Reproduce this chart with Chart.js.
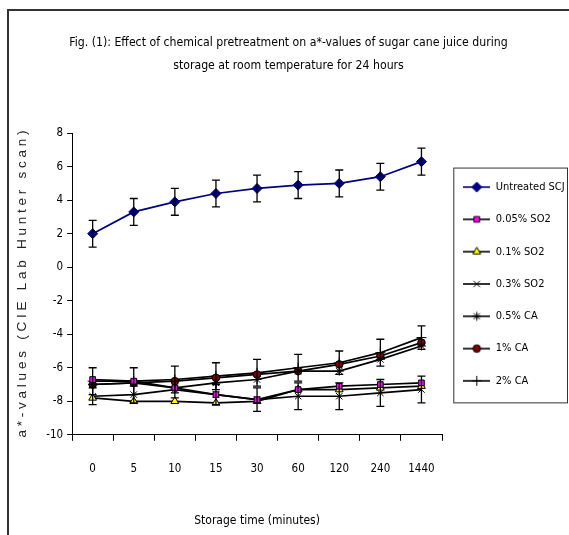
<!DOCTYPE html>
<html>
<head>
<meta charset="utf-8">
<script src="https://cdn.jsdelivr.net/npm/chart.js@4.4.1/dist/chart.umd.min.js"></script>
<style>
  html, body { margin: 0; padding: 0; background: #fff; }
  #c { display: block; }
</style>
</head>
<body>
<canvas id="c" width="569" height="535"></canvas>
<script>
const NARROW = '"Liberation Sans Narrow", "Arial Narrow", "DejaVu Sans Condensed", sans-serif';

/* ===== DATA ===== */
const times = ["0", "5", "10", "15", "30", "60", "120", "240", "1440"];
const yTicks = { min: -10, max: 8, step: 2 };

const untreated    = [2.0, 3.3, 3.9, 4.4, 4.7, 4.9, 5.0, 5.4, 6.3];
const untreatedErr = [0.8, 0.8, 0.8, 0.8, 0.8, 0.8, 0.8, 0.8, 0.8];
const so2_005 = [-6.7, -6.8, -7.2, -7.6, -7.9, -7.3, -7.1, -7.0, -6.9];
const so2_01  = [-7.8, -8.0, -8.0, -8.1, -8.0, -7.3, -7.3, -7.2, -7.1];
const so2_03  = [-7.7, -7.6, -7.3, -7.6, -7.9, -7.7, -7.7, -7.5, -7.3];
const so2_03Err = [0.5, 0.5, 0.5, 0.6, 0.7, 0.8, 0.8, 0.8, 0.8];
const ca_05 = [-7.0, -6.9, -7.2, -6.9, -6.7, -6.2, -6.2, -5.5, -4.7];
const ca_1  = [-7.0, -6.9, -6.8, -6.6, -6.4, -6.2, -5.8, -5.3, -4.5];
const ca_2  = [-6.8, -6.8, -6.7, -6.5, -6.3, -6.0, -5.7, -5.1, -4.2];
const ca_2Err = [0.8, 0.8, 0.8, 0.8, 0.8, 0.8, 0.7, 0.8, 0.7];

const titleLines = [
  "Fig. (1): Effect of chemical pretreatment on a*-values of sugar cane juice during",
  "storage at room temperature for 24 hours"
];
const xTitle = "Storage time (minutes)";
const yTitle = "a*-values (CIE Lab Hunter scan)";

/* ===== SERIES STYLE ===== */
const series = [
  { label: "Untreated SCJ", data: untreated, errors: untreatedErr, line: "#000080", fill: "#000080", edge: "#000080", style: "rectRot", radius: 5 },
  { label: "0.05% SO2", data: so2_005, line: "#000", fill: "#ff00ff", edge: "#000", style: "rect", radius: 4 },
  { label: "0.1% SO2", data: so2_01, line: "#000", fill: "#ffff00", edge: "#000", style: "triangle", radius: 4.5 },
  { label: "0.3% SO2", data: so2_03, errors: so2_03Err, line: "#000", fill: "#000", edge: "#000", style: "crossRot", radius: 4.5 },
  { label: "0.5% CA", data: ca_05, line: "#000", fill: "#000", edge: "#000", style: "star", radius: 4.5 },
  { label: "1% CA", data: ca_1, line: "#000", fill: "#800000", edge: "#000", style: "circle", radius: 3.8 },
  { label: "2% CA", data: ca_2, errors: ca_2Err, line: "#000", fill: "#000", edge: "#000", style: "cross", radius: 5 }
];

/* legend icon: line with marker */
const ICON_W = 27;
function makeIcon(s) {
  const cv = document.createElement("canvas");
  cv.width = ICON_W; cv.height = 12;
  const c = cv.getContext("2d");
  c.strokeStyle = s.line; c.lineWidth = 1.6;
  c.beginPath(); c.moveTo(0, 6); c.lineTo(ICON_W, 6); c.stroke();
  c.fillStyle = s.fill; c.strokeStyle = s.edge; c.lineWidth = 1;
  Chart.helpers.drawPoint(c, { pointStyle: s.style, radius: s.radius, rotation: 0, borderWidth: 1 }, ICON_W / 2, 6);
  return cv;
}
const icons = series.map(makeIcon);

/* ===== PLUGINS ===== */
const frame = {
  id: "frame",
  beforeDraw(chart) {
    const ctx = chart.ctx;
    ctx.save();
    ctx.fillStyle = "#fff";
    ctx.fillRect(0, 0, chart.width, chart.height);
    ctx.strokeStyle = "#333"; ctx.lineWidth = 2;
    ctx.beginPath();
    ctx.moveTo(8, chart.height); ctx.lineTo(8, 10); ctx.lineTo(chart.width, 10);
    ctx.stroke();
    ctx.restore();
  }
};

const errorBars = {
  id: "errorBars",
  afterDatasetsDraw(chart) {
    const { ctx, scales: { x, y } } = chart;
    ctx.save();
    ctx.strokeStyle = "#000"; ctx.lineWidth = 1.3;
    chart.data.datasets.forEach(ds => {
      if (!ds.errors) return;
      ds.data.forEach((v, i) => {
        const px = x.getPixelForValue(i);
        const top = y.getPixelForValue(v + ds.errors[i]);
        const bot = y.getPixelForValue(v - ds.errors[i]);
        ctx.beginPath();
        ctx.moveTo(px, top); ctx.lineTo(px, bot);
        ctx.moveTo(px - 4, top); ctx.lineTo(px + 4, top);
        ctx.moveTo(px - 4, bot); ctx.lineTo(px + 4, bot);
        ctx.stroke();
      });
    });
    ctx.restore();
  }
};

const legendBox = {
  id: "legendBox",
  afterDraw(chart) {
    const lg = chart.legend, hb = lg.legendHitBoxes;
    if (!hb || !hb.length) return;
    const last = hb[hb.length - 1];
    const ctx = chart.ctx;
    ctx.save();
    ctx.strokeStyle = "#333"; ctx.lineWidth = 1;
    const l = hb[0].left - 10, t = hb[0].top - 14;
    ctx.strokeRect(l + 0.5, t + 0.5, chart.width - 2 - l, last.top + last.height + 16 - t);
    ctx.restore();
  }
};

/* ===== CHART ===== */
new Chart(document.getElementById("c"), {
  type: "line",
  data: {
    labels: times,
    datasets: series.map(s => ({
      label: s.label,
      data: s.data,
      errors: s.errors,
      borderColor: s.line,
      borderWidth: 1.7,
      backgroundColor: s.fill,
      pointBackgroundColor: s.fill,
      pointBorderColor: s.edge,
      pointBorderWidth: 1,
      pointStyle: s.style,
      pointRadius: s.radius,
      tension: 0
    }))
  },
  options: {
    responsive: false,
    animation: false,
    layout: { padding: { left: 8, right: 0, top: 0, bottom: 0 } },
    plugins: {
      title: {
        display: true,
        text: titleLines,
        color: "#000",
        font: { family: NARROW, size: 12.2, weight: "normal", lineHeight: 1.85 },
        padding: { top: 32, bottom: 56 }
      },
      legend: {
        position: "right",
        fullSize: false,
        maxWidth: 127,
        labels: {
          usePointStyle: true,
          pointStyleWidth: ICON_W,
          boxHeight: 12,
          padding: 21.3,
          color: "#000",
          font: { family: NARROW, size: 11 },
          generateLabels(chart) {
            return Chart.defaults.plugins.legend.labels.generateLabels(chart)
              .map((it, i) => ({ ...it, pointStyle: icons[i] }));
          }
        }
      },
      tooltip: { enabled: false }
    },
    scales: {
      x: {
        offset: true,
        grid: { offset: true, drawOnChartArea: false, color: "#000", tickLength: 6 },
        border: { color: "#000", width: 1 },
        ticks: { color: "#000", padding: 21, font: { family: NARROW, size: 11.5 } },
        title: {
          display: true, text: xTitle, color: "#000",
          font: { family: NARROW, size: 12 },
          padding: { top: 17, bottom: 7 }
        }
      },
      y: {
        min: yTicks.min, max: yTicks.max,
        grid: { drawOnChartArea: false, color: "#000", tickLength: 5 },
        border: { color: "#000", width: 1 },
        ticks: { stepSize: yTicks.step, color: "#000", padding: 4, font: { family: NARROW, size: 11.5 } },
        title: {
          display: true,
          text: yTitle.split("").join(" "),
          color: "#222",
          font: { family: '"Liberation Sans", Arial, sans-serif', size: 13.5 },
          padding: { top: 6, bottom: 12 }
        }
      }
    }
  },
  plugins: [frame, errorBars, legendBox]
});
</script>
</body>
</html>
